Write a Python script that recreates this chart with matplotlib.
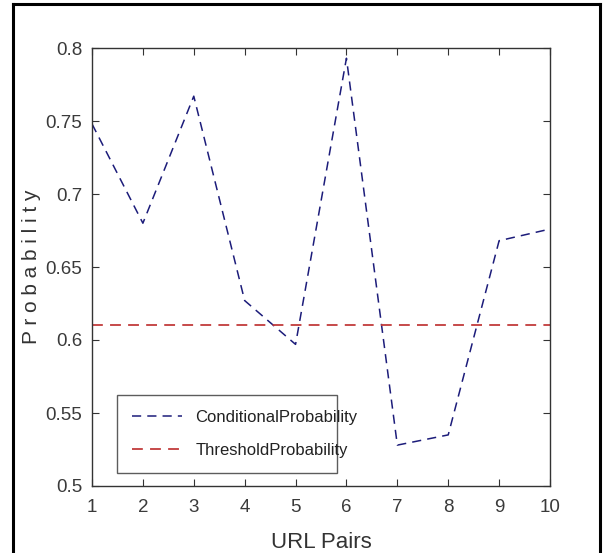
import numpy as np
import matplotlib
matplotlib.use('Agg')
import matplotlib.pyplot as plt
from matplotlib.lines import Line2D

# data
urlPairs = [1, 2, 3, 4, 5, 6, 7, 8, 9, 10]
condProb = [0.748, 0.680, 0.767, 0.627, 0.597, 0.793, 0.528, 0.535, 0.668, 0.676]
threshold = 0.61
yTicks = [0.5, 0.55, 0.6, 0.65, 0.7, 0.75, 0.8]
yTickLabels = ['0.5', '0.55', '0.6', '0.65', '0.7', '0.75', '0.8']

plt.rcParams['font.family'] = ['Liberation Sans', 'DejaVu Sans']

fig = plt.figure(figsize=(6.05, 5.53), dpi=100)
ax = fig.add_axes([92/605, 1 - 486/553, 458/605, 438/553])

ax.plot(urlPairs, condProb, linestyle=(0, (6, 4)), color='#1c1c7a', lw=1.1,
        label='ConditionalProbability')
ax.plot(urlPairs, [threshold] * len(urlPairs), linestyle=(0, (6, 4)), color='#c23b3b',
        lw=1.3, label='ThresholdProbability')

ax.set_xlim(1, 10)
ax.set_ylim(0.5, 0.8)
ax.set_xticks(urlPairs)
ax.set_yticks(yTicks)
ax.set_yticklabels(yTickLabels)
ax.tick_params(direction='in', top=True, right=True, length=5, width=0.8,
               labelsize=13.5, labelcolor='#3a3a3a', color='#333333')
ax.tick_params(axis='x', pad=9)
ax.tick_params(axis='y', pad=7)
for s in ax.spines.values():
    s.set_color('#333333')
    s.set_linewidth(1.0)

ax.set_xlabel('URL Pairs', fontsize=16, color='#333333', labelpad=12)
ax.set_ylabel('P r o b a b i l i t y', fontsize=15, color='#333333', labelpad=3)

leg = ax.legend(loc='lower left', bbox_to_anchor=(0.055, 0.03, 0.48, 0.2),
                mode='expand', borderaxespad=0, fontsize=12, frameon=True,
                fancybox=False, handlelength=3.0, borderpad=0.9, labelspacing=1.1)
leg.get_frame().set_edgecolor('#333333')
leg.get_frame().set_linewidth(1.0)
for t in leg.get_texts():
    t.set_color('#222222')

# outer frame of the picture
fig.add_artist(Line2D([13/605, 13/605], [0, 1 - 4/553], color='black', lw=2.2))
fig.add_artist(Line2D([13/605, 600/605], [1 - 4/553, 1 - 4/553], color='black', lw=2.2))
fig.add_artist(Line2D([600/605, 600/605], [0, 1 - 4/553], color='black', lw=2.2))

fig.savefig('out.png', dpi=100)
